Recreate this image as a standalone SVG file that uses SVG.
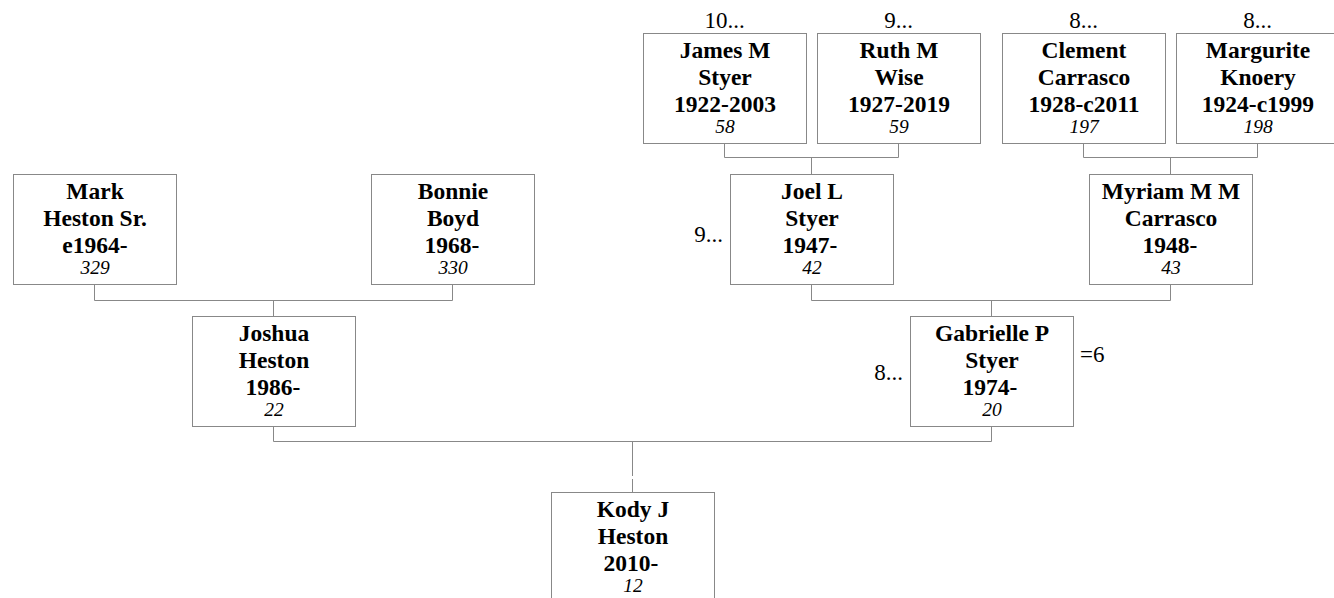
<svg xmlns="http://www.w3.org/2000/svg" width="1334" height="598" viewBox="0 0 1334 598">
<style>
.box{fill:#fff;stroke:#888;stroke-width:1}
.c{fill:none;stroke:#888;stroke-width:1}
.n{font-family:"Liberation Serif","Times New Roman",serif;font-weight:bold;font-size:23.5px;text-anchor:middle;fill:#000}
.i{font-family:"Liberation Serif","Times New Roman",serif;font-style:italic;font-size:19.5px;text-anchor:middle;fill:#000}
.r{font-family:"Liberation Serif","Times New Roman",serif;font-size:23px;fill:#000}
</style>
<rect width="1334" height="598" fill="#fff"/>
<g id="connectors">
<path class="c" d="M724.5 143.5V157.5H898.5V143.5M811.5 157.5V174"/>
<path class="c" d="M1083.5 143.5V157.5H1257.5V143.5M1170.5 157.5V174"/>
<path class="c" d="M94.5 284.5V300.5H452.5V284.5M273.5 300.5V316"/>
<path class="c" d="M811.5 284.5V300.5H1170.5V284.5M991.5 300.5V316"/>
<path class="c" d="M273.5 425.5V441.5H991.5V425.5M632.5 441.5V476M632.5 479V492"/>
</g>
<g id="james">
<rect class="box" x="643.5" y="33.5" width="163" height="110"/>
<text class="r" x="724.5" y="28" text-anchor="middle">10...</text>
<text class="n" x="725" y="58">James M</text>
<text class="n" x="725" y="85">Styer</text>
<text class="n" x="725" y="112">1922-2003</text>
<text class="i" x="725" y="133">58</text>
</g>
<g id="ruth">
<rect class="box" x="817.5" y="33.5" width="163" height="110"/>
<text class="r" x="898.5" y="28" text-anchor="middle">9...</text>
<text class="n" x="899" y="58">Ruth M</text>
<text class="n" x="899" y="85">Wise</text>
<text class="n" x="899" y="112">1927-2019</text>
<text class="i" x="899" y="133">59</text>
</g>
<g id="clement">
<rect class="box" x="1002.5" y="33.5" width="163" height="110"/>
<text class="r" x="1083.5" y="28" text-anchor="middle">8...</text>
<text class="n" x="1084" y="58">Clement</text>
<text class="n" x="1084" y="85">Carrasco</text>
<text class="n" x="1084" y="112">1928-c2011</text>
<text class="i" x="1084" y="133">197</text>
</g>
<g id="margurite">
<rect class="box" x="1176.5" y="33.5" width="163" height="110"/>
<text class="r" x="1257.5" y="28" text-anchor="middle">8...</text>
<text class="n" x="1258" y="58">Margurite</text>
<text class="n" x="1258" y="85">Knoery</text>
<text class="n" x="1258" y="112">1924-c1999</text>
<text class="i" x="1258" y="133">198</text>
</g>
<g id="mark">
<rect class="box" x="13.5" y="174.5" width="163" height="110"/>
<text class="n" x="95" y="199">Mark</text>
<text class="n" x="95" y="226">Heston Sr.</text>
<text class="n" x="95" y="253">e1964-</text>
<text class="i" x="95" y="274">329</text>
</g>
<g id="bonnie">
<rect class="box" x="371.5" y="174.5" width="163" height="110"/>
<text class="n" x="453" y="199">Bonnie</text>
<text class="n" x="453" y="226">Boyd</text>
<text class="n" x="452" y="253">1968-</text>
<text class="i" x="453" y="274">330</text>
</g>
<g id="joel">
<rect class="box" x="730.5" y="174.5" width="163" height="110"/>
<text class="r" x="723" y="242" text-anchor="end">9...</text>
<text class="n" x="812" y="199">Joel L</text>
<text class="n" x="812" y="226">Styer</text>
<text class="n" x="810" y="253">1947-</text>
<text class="i" x="812" y="274">42</text>
</g>
<g id="myriam">
<rect class="box" x="1089.5" y="174.5" width="163" height="110"/>
<text class="n" x="1171" y="199">Myriam M M</text>
<text class="n" x="1171" y="226">Carrasco</text>
<text class="n" x="1170" y="253">1948-</text>
<text class="i" x="1171" y="274">43</text>
</g>
<g id="joshua">
<rect class="box" x="192.5" y="316.5" width="163" height="110"/>
<text class="n" x="274" y="341">Joshua</text>
<text class="n" x="274" y="368">Heston</text>
<text class="n" x="273" y="395">1986-</text>
<text class="i" x="274" y="416">22</text>
</g>
<g id="gabrielle">
<rect class="box" x="910.5" y="316.5" width="163" height="110"/>
<text class="r" x="903" y="380" text-anchor="end">8...</text>
<text class="r" x="1080" y="362">=6</text>
<text class="n" x="992" y="341">Gabrielle P</text>
<text class="n" x="992" y="368">Styer</text>
<text class="n" x="990" y="395">1974-</text>
<text class="i" x="992" y="416">20</text>
</g>
<g id="kody">
<rect class="box" x="551.5" y="492.5" width="163" height="110"/>
<text class="n" x="633" y="517">Kody J</text>
<text class="n" x="633" y="544">Heston</text>
<text class="n" x="631" y="571">2010-</text>
<text class="i" x="633" y="592">12</text>
</g>
</svg>
